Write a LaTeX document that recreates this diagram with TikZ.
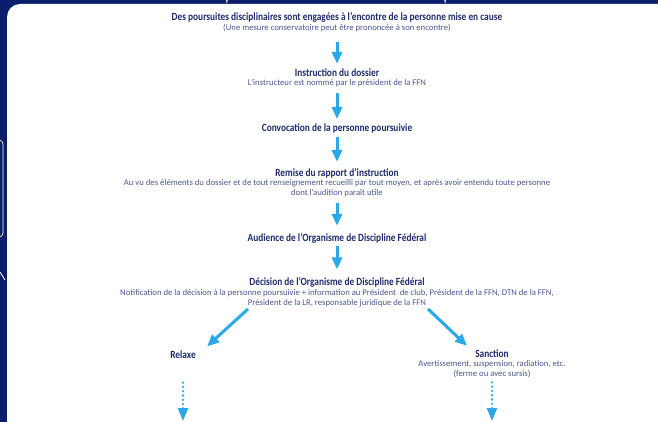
\documentclass[tikz,border=0pt]{standalone}
\usepackage{fontspec}
\setmainfont{Carlito}[FakeStretch=0.85]
\newfontfamily\subfont{Carlito}
\usetikzlibrary{arrows.meta,calc}
\definecolor{navy}{HTML}{0B1E6B}
\definecolor{ttl}{HTML}{1F2C6C}
\definecolor{sub}{HTML}{4E5890}
\definecolor{arrowblue}{HTML}{2AA8E8}
\tikzset{
  ttlnode/.style={inner sep=0pt, align=center, text=ttl, font=\fontsize{11}{12}\selectfont\bfseries},
  subnode/.style={inner sep=0pt, align=center, text=sub, font=\subfont\fontsize{8.7}{10}\selectfont},
  bigarrow/.style={draw=arrowblue, line width=3pt, -{Triangle[width=10pt,length=12pt]}},
  dotarrow/.style={draw=arrowblue, line width=2.6pt, line cap=round, dash pattern=on 0pt off 4.3pt, -{Triangle[width=10pt,length=13pt]}},
}
\begin{document}
\begin{tikzpicture}[x=1pt,y=-1pt]
\useasboundingbox (0,0) rectangle (658,422);
% background
\fill[navy] (0,0) rectangle (658,422);
\fill[white, rounded corners=13pt] (7,4) rectangle (680,435);
% decorations at edges
\draw[white, line width=0.7pt, rounded corners=4pt] (-20,140) rectangle (3,237);
\draw[white, line width=0.8pt] (0,272) -- (5,280);
\draw[white, line width=0.8pt] (229,-1) .. controls (226,1) .. (227,3);
\draw[white, line width=0.8pt] (443,-1) .. controls (446,1) .. (445,3);

% stages
\node[ttlnode] (t1) at (337,17) {Des poursuites disciplinaires sont engagées à l’encontre de la personne mise en cause};
\node[subnode] (s1) at (337,28.5) {(Une mesure conservatoire peut être prononcée à son encontre)};
\node[ttlnode] (t2) at (337,73) {Instruction du dossier};
\node[subnode] (s2) at (337,83.5) {L’instructeur est nommé par le président de la FFN};
\node[ttlnode] (t3) at (337,128) {Convocation de la personne poursuivie};
\node[ttlnode] (t4) at (337,173) {Remise du rapport d’instruction};
\node[subnode] (s4) at (337,188.5) {Au vu des éléments du dossier et de tout renseignement recueilli par tout moyen, et après avoir entendu toute personne\\dont l’audition paraît utile};
\node[ttlnode] (t5) at (337,238) {Audience de l’Organisme de Discipline Fédéral};
\node[ttlnode] (t6) at (337,282.5) {Décision de l’Organisme de Discipline Fédéral};
\node[subnode] (s6) at (337,298) {Notification de la décision à la personne poursuivie + information au Président\ \ de club, Président de la FFN, DTN de la FFN,\\Président de la LR, responsable juridique de la FFN};
\node[ttlnode] (t7) at (183,354.5) {Relaxe};
\node[ttlnode] (t8) at (492,354) {Sanction};
\node[subnode] (s8) at (492,369.5) {Avertissement, suspension, radiation, etc.\\(ferme ou avec sursis)};
\coordinate (endL) at (183,421);
\coordinate (endR) at (492,421);

% arrows
\draw[bigarrow] ($(s1.south)+(0,9)$) -- ($(t2.north)+(0,-5)$);
\draw[bigarrow] ($(s2.south)+(0,6)$) -- ($(t3.north)+(0,-4)$);
\draw[bigarrow] ($(t3.south)+(0,4.5)$) -- ($(t4.north)+(0,-6)$);
\draw[bigarrow] ($(s4.south)+(0,6)$) -- ($(t5.north)+(0,-7)$);
\draw[bigarrow] ($(t5.south)+(0,3)$) -- ($(t6.north)+(0,-8)$);
\draw[bigarrow] ($(s6.south)+(-89,2)$) -- ($(t7.north)+(24,-4)$);
\draw[bigarrow] ($(s6.south)+(91,2)$) -- ($(t8.north)+(-25,-4)$);
\draw[dotarrow] ($(t7.south)+(0,24)$) -- (endL);
\draw[dotarrow] ($(s8.south)+(0,4)$) -- (endR);
\end{tikzpicture}
\end{document}
